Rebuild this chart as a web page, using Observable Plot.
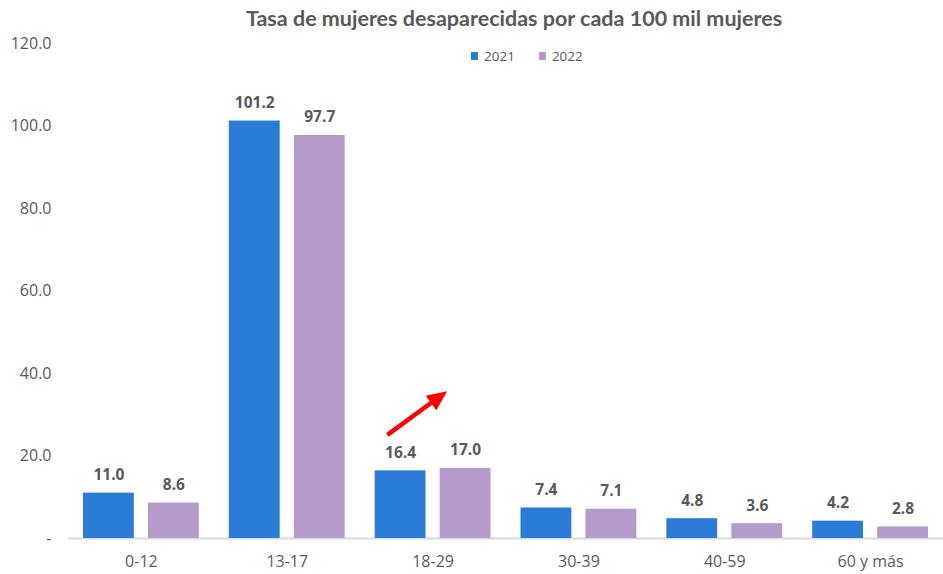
<!DOCTYPE html>
<html>
<head>
<meta charset="utf-8">
<script src="https://cdn.jsdelivr.net/npm/d3@7"></script>
<script src="https://cdn.jsdelivr.net/npm/@observablehq/plot@0.6"></script>
<style>
  html, body { margin: 0; padding: 0; background: #fff; }
  #wrap { position: relative; width: 943px; height: 574px; overflow: hidden; }
  #title { position: absolute; left: 0; top: 5px; width: 1028px; text-align: center;
    font-family: Lato, "Open Sans", sans-serif; font-weight: 700; font-size: 21.5px; color: #595959; }
  #legend { position: absolute; left: 471px; top: 47px; display: flex; gap: 24px;
    font-family: "Open Sans", sans-serif; font-size: 13.5px; color: #595959; }
  #legend span.item { display: flex; align-items: center; gap: 6px; }
  #legend i { display: inline-block; width: 7px; height: 8px; }
  #chart { position: absolute; left: 0; top: 0; }
</style>
</head>
<body>
<div id="wrap">
  <div id="chart"></div>
  <div id="title"></div>
  <div id="legend"></div>
</div>
<script>
const title = "Tasa de mujeres desaparecidas por cada 100 mil mujeres";
const categories = ["0-12", "13-17", "18-29", "30-39", "40-59", "60 y más"];
const years = ["2021", "2022"];
const values2021 = [11.0, 101.2, 16.4, 7.4, 4.8, 4.2];
const values2022 = [8.6, 97.7, 17.0, 7.1, 3.6, 2.8];
const yTicks = [0, 20, 40, 60, 80, 100, 120];
const colors = ["#2b7cd6", "#b59bca"];
// annotation arrow anchored on the "18-29" group (values in data units)
const arrowCategory = "18-29";
const arrowFrom = 25.0;
const arrowTo = 35.6;

const rows2021 = categories.map((c, i) => ({cat: c, year: "2021", value: values2021[i]}));
const rows2022 = categories.map((c, i) => ({cat: c, year: "2022", value: values2022[i]}));

const font = "'Open Sans', sans-serif";
const grey = "#595959";

const plot = Plot.plot({
  width: 943,
  height: 574,
  marginTop: 43,
  marginBottom: 36,
  marginLeft: 68,
  marginRight: 0,
  style: {fontFamily: font, fontSize: "16px", color: grey, background: "transparent"},
  x: {domain: categories, padding: 0, round: false, label: null, tickSize: 0, tickPadding: 17},
  y: {domain: [0, 120], ticks: yTicks, tickFormat: d => d === 0 ? "-" : d.toFixed(1),
      label: null, tickSize: 0, tickPadding: 17},
  marks: [
    Plot.ruleY([0], {stroke: "#d9d9d9", strokeWidth: 2}),
    Plot.barY(rows2021, {x: "cat", y: "value", fill: colors[0], insetLeft: 15, insetRight: 80}),
    Plot.barY(rows2022, {x: "cat", y: "value", fill: colors[1], insetLeft: 80, insetRight: 15}),
    Plot.text(rows2021, {x: "cat", y: "value", text: d => d.value.toFixed(1), dx: -32.5, dy: -18,
      fontWeight: "bold", fontSize: 15.5, fill: grey}),
    Plot.text(rows2022, {x: "cat", y: "value", text: d => d.value.toFixed(1), dx: 32.5, dy: -18,
      fontWeight: "bold", fontSize: 15.5, fill: grey})
  ]
});
document.getElementById("chart").appendChild(plot);

// arrow annotation via the plot's own scales
const xs = plot.scale("x"), ys = plot.scale("y");
const bx = xs.apply(arrowCategory), bw = xs.bandwidth;
const x1 = bx + bw * 0.19, y1 = ys.apply(arrowFrom);
const x2 = bx + bw * 0.60, y2 = ys.apply(arrowTo);
const ang = Math.atan2(y2 - y1, x2 - x1);
const hl = 20, hw = 9;
const baseX = x2 - hl * Math.cos(ang), baseY = y2 - hl * Math.sin(ang);
const svg = d3.select(plot);
const g = svg.append("g");
g.append("line").attr("x1", x1).attr("y1", y1).attr("x2", baseX + 2 * Math.cos(ang)).attr("y2", baseY + 2 * Math.sin(ang))
  .attr("stroke", "#ff0000").attr("stroke-width", 4.5);
g.append("polygon").attr("fill", "#ff0000").attr("points", [
  [x2, y2],
  [baseX + hw * Math.sin(ang), baseY - hw * Math.cos(ang)],
  [baseX - hw * Math.sin(ang), baseY + hw * Math.cos(ang)]
].map(p => p.join(",")).join(" "));

document.getElementById("title").textContent = title;
const legend = d3.select("#legend");
years.forEach((yr, i) => {
  const it = legend.append("span").attr("class", "item");
  it.append("i").style("background", colors[i]);
  it.append("span").text(yr);
});
</script>
</body>
</html>
